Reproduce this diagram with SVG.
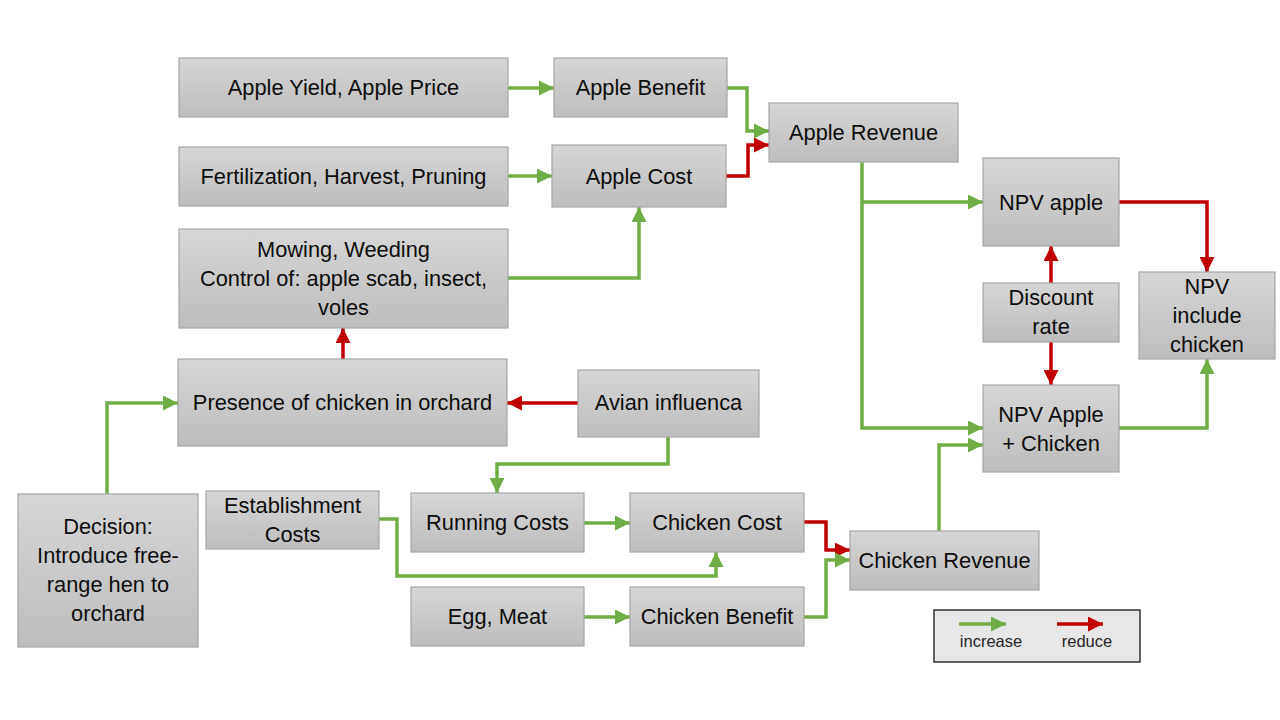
<svg xmlns="http://www.w3.org/2000/svg" width="1280" height="720" viewBox="0 0 1280 720">
<defs>
<linearGradient id="g" x1="0" y1="0" x2="0" y2="1">
<stop offset="0" stop-color="#d6d6d6"/>
<stop offset="1" stop-color="#bdbdbd"/>
</linearGradient>
<marker id="ag" markerUnits="userSpaceOnUse" markerWidth="15" markerHeight="15" viewBox="0 0 12 12" refX="12" refY="6" orient="auto">
<path d="M0,0 L12,6 L0,12 z" fill="#70ad47"/>
</marker>
<marker id="ar" markerUnits="userSpaceOnUse" markerWidth="15" markerHeight="15" viewBox="0 0 12 12" refX="12" refY="6" orient="auto">
<path d="M0,0 L12,6 L0,12 z" fill="#c00000"/>
</marker>
</defs>
<style>
.box{fill:url(#g);stroke:#a6a6a6;stroke-width:1.2}
text{font-family:"Liberation Sans",Arial,sans-serif;font-size:21.8px;fill:#0d0d0d;text-anchor:middle}
.g{fill:none;stroke:#70ad47;stroke-width:3.5;marker-end:url(#ag)}
.r{fill:none;stroke:#c00000;stroke-width:3.5;marker-end:url(#ar)}
.lg{font-size:16.5px;fill:#262626}
</style>
<rect width="1280" height="720" fill="#ffffff"/>
<g id="connectors">
<path class="g" d="M508,88 H554"/>
<path class="g" d="M727,88 H747 V131 H769"/>
<path class="r" d="M726,176 H748 V145 H769"/>
<path class="g" d="M508,176 H552"/>
<path class="g" d="M508,278 H639 V207"/>
<path class="r" d="M343,359 V328"/>
<path class="r" d="M578,403 H507"/>
<path class="g" d="M107,494 V403 H178"/>
<path class="g" d="M668,437 V464 H497 V493"/>
<path class="g" d="M379,519 H397 V576 H716 V552"/>
<path class="g" d="M584,523 H630"/>
<path class="r" d="M804,522 H826 V550 H850"/>
<path class="g" d="M584,617 H630"/>
<path class="g" d="M804,617 H826 V560 H850"/>
<path class="g" d="M862,162 V202 H983"/>
<path class="g" d="M862,202 V428 H983"/>
<path class="g" d="M939,531 V445 H983"/>
<path class="r" d="M1051,283 V246"/>
<path class="r" d="M1051,342 V385"/>
<path class="r" d="M1119,202 H1207 V272"/>
<path class="g" d="M1119,428 H1207 V359"/>
</g>
<g id="n1"><rect class="box" x="179" y="58" width="329" height="59"/><text x="343.5" y="95">Apple Yield, Apple Price</text></g>
<g id="n2"><rect class="box" x="554" y="58" width="173" height="59"/><text x="640.5" y="95">Apple Benefit</text></g>
<g id="n3"><rect class="box" x="769" y="103" width="189" height="59"/><text x="863.5" y="140">Apple Revenue</text></g>
<g id="n4"><rect class="box" x="179" y="147" width="329" height="59"/><text x="343.5" y="184">Fertilization, Harvest, Pruning</text></g>
<g id="n5"><rect class="box" x="552" y="145" width="174" height="62"/><text x="639" y="184">Apple Cost</text></g>
<g id="n6"><rect class="box" x="179" y="229" width="329" height="99"/><text x="343.5" y="257">Mowing, Weeding</text><text x="343.5" y="286">Control of: apple scab, insect,</text><text x="343.5" y="315">voles</text></g>
<g id="n7"><rect class="box" x="178" y="359" width="329" height="87"/><text x="342.5" y="410">Presence of chicken in orchard</text></g>
<g id="n8"><rect class="box" x="578" y="370" width="181" height="67"/><text x="668.5" y="410">Avian influenca</text></g>
<g id="n9"><rect class="box" x="18" y="494" width="180" height="153"/><text x="108" y="534">Decision:</text><text x="108" y="563">Introduce free-</text><text x="108" y="592">range hen to</text><text x="108" y="621">orchard</text></g>
<g id="n10"><rect class="box" x="206" y="491" width="173" height="58"/><text x="292.5" y="513">Establishment</text><text x="292.5" y="542">Costs</text></g>
<g id="n11"><rect class="box" x="411" y="493" width="173" height="59"/><text x="497.5" y="530">Running Costs</text></g>
<g id="n12"><rect class="box" x="630" y="493" width="174" height="59"/><text x="717" y="530">Chicken Cost</text></g>
<g id="n13"><rect class="box" x="411" y="587" width="173" height="59"/><text x="497.5" y="624">Egg, Meat</text></g>
<g id="n14"><rect class="box" x="630" y="587" width="174" height="59"/><text x="717" y="624">Chicken Benefit</text></g>
<g id="n15"><rect class="box" x="850" y="531" width="189" height="59"/><text x="944.5" y="568">Chicken Revenue</text></g>
<g id="n16"><rect class="box" x="983" y="158" width="136" height="88"/><text x="1051" y="210">NPV apple</text></g>
<g id="n17"><rect class="box" x="983" y="283" width="136" height="59"/><text x="1051" y="305">Discount</text><text x="1051" y="334">rate</text></g>
<g id="n18"><rect class="box" x="1139" y="272" width="136" height="87"/><text x="1207" y="294">NPV</text><text x="1207" y="323">include</text><text x="1207" y="352">chicken</text></g>
<g id="n19"><rect class="box" x="983" y="385" width="136" height="87"/><text x="1051" y="422">NPV Apple</text><text x="1051" y="451">+ Chicken</text></g>
<g id="legend">
<rect x="934" y="610" width="206" height="52" fill="#e7e7e7" stroke="#000000" stroke-width="1.2"/>
<path class="g" d="M959,624 H1006"/>
<path class="r" d="M1057,624 H1103"/>
<text class="lg" x="991" y="647">increase</text>
<text class="lg" x="1087" y="647">reduce</text>
</g>
</svg>
